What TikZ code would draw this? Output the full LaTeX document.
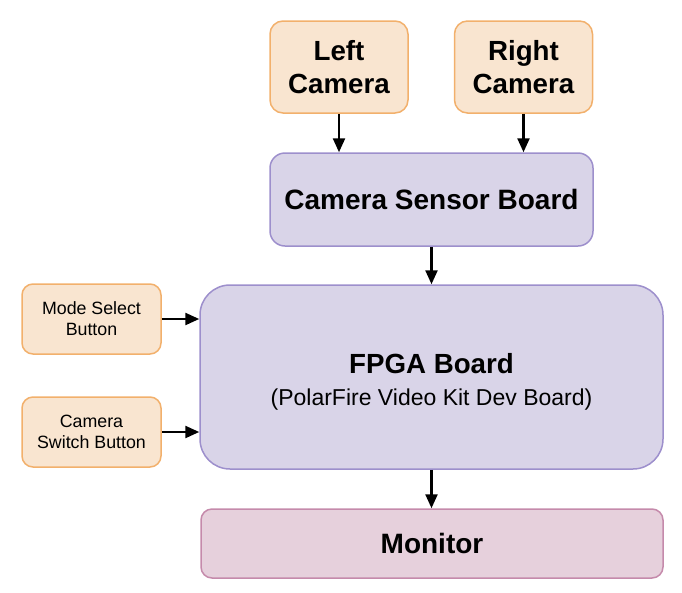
\documentclass[tikz,border=0pt]{standalone}
\usepackage{fontspec}
\setmainfont{Liberation Sans}
\usetikzlibrary{arrows.meta}
\definecolor{orfill}{HTML}{F9E5D0}
\definecolor{ordraw}{HTML}{F2B06C}
\definecolor{pufill}{HTML}{D9D4E8}
\definecolor{pudraw}{HTML}{9D8FCC}
\definecolor{mofill}{HTML}{E6D0DC}
\definecolor{modraw}{HTML}{C58AAB}
\begin{document}
\begin{tikzpicture}[x=1pt,y=-1pt,
  box/.style={draw, line width=1.5pt, rectangle, align=center, inner sep=0pt, anchor=center},
  cam/.style={box, fill=orfill, draw=ordraw, rounded corners=13pt, minimum width=138pt, minimum height=92pt, font=\fontsize{27.7}{33}\selectfont\bfseries},
  btn/.style={box, fill=orfill, draw=ordraw, rounded corners=11pt, minimum width=139pt, minimum height=70pt, font=\fontsize{17.8}{21}\selectfont},
  board/.style={box, fill=pufill, draw=pudraw},
  arr/.style={line width=2.4pt, -{Triangle[length=14pt,width=12pt]}}
]
\useasboundingbox (0,0) rectangle (682,592);
\node[cam] (lc) at (339,67) {Left\\Camera};
\node[cam] (rc) at (523.5,67) {Right\\Camera};
\node[board, rounded corners=15pt, minimum width=323pt, minimum height=93pt, font=\fontsize{28}{30}\selectfont\bfseries] (csb) at (431.5,199.5) {Camera Sensor Board};
\node[board, rounded corners=30pt, minimum width=463pt, minimum height=184pt] (fpga) at (431.5,377) {};
\node[font=\fontsize{27.7}{30}\selectfont\bfseries, anchor=base, inner sep=0pt] (ft) at (431.5,373) {FPGA Board};
\node[font=\fontsize{23}{25}\selectfont, anchor=base, inner sep=0pt] (fs) at (431.5,405) {(PolarFire Video Kit Dev Board)};
\node[btn] (ms) at (91.5,319) {Mode Select\\Button};
\node[btn] (cs) at (91.5,432) {Camera\\Switch Button};
\node[box, fill=mofill, draw=modraw, rounded corners=11pt, minimum width=462pt, minimum height=69pt, font=\fontsize{28}{30}\selectfont\bfseries] (mon) at (432,543.5) {Monitor};
\draw[arr] (lc.south) -- (lc.south |- csb.north);
\draw[arr] (rc.south) -- (rc.south |- csb.north);
\draw[arr] (csb.south) -- (csb.south |- fpga.north);
\draw[arr] (ms.east) -- (ms.east -| fpga.west);
\draw[arr] (cs.east) -- (cs.east -| fpga.west);
\draw[arr] (fpga.south) -- (fpga.south |- mon.north);
\end{tikzpicture}
\end{document}
